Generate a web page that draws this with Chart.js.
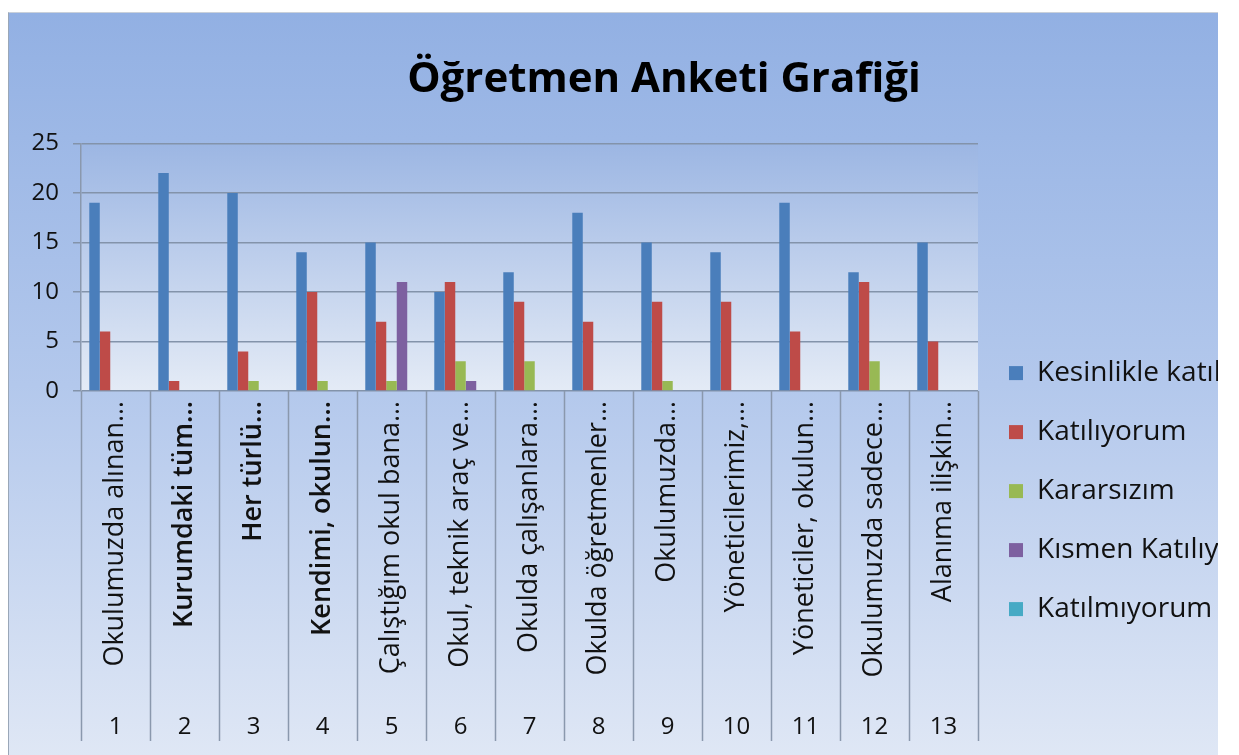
<!DOCTYPE html>
<html>
<head>
<meta charset="utf-8">
<script src="https://cdn.jsdelivr.net/npm/chart.js@4.4.1/dist/chart.umd.min.js"></script>
<style>
  html, body { margin: 0; padding: 0; background: #fff; }
  #wrap {
    position: absolute; left: 8px; top: 12px; width: 1209px; height: 743px;
    overflow: hidden; border-left: 1px solid #9aa7b8; border-top: 1px solid #c9d0da;
    background: linear-gradient(to bottom, #92b0e3 0%, #b3c8ec 50%, #dfe7f5 100%);
  }
  #mycanvas { position: absolute; left: 0; top: 0; }
</style>
</head>
<body>
<div id="wrap"><canvas id="mycanvas" width="1310" height="743"></canvas></div>
<script>
var questionLabels = ["Okulumuzda alınan…", "Kurumdaki tüm…", "Her türlü…", "Kendimi, okulun…",
  "Çalıştığım okul bana…", "Okul, teknik araç ve…", "Okulda çalışanlara…", "Okulda öğretmenler…",
  "Okulumuzda…", "Yöneticilerimiz,…", "Yöneticiler, okulun…", "Okulumuzda sadece…", "Alanıma ilişkin…"];
var questionNumbers = ["1", "2", "3", "4", "5", "6", "7", "8", "9", "10", "11", "12", "13"];
var seriesNames = ["Kesinlikle katılıyorum", "Katılıyorum", "Kararsızım", "Kısmen Katılıyorum", "Katılmıyorum"];
var seriesColors = ["#4a7ebb", "#be4b48", "#98b954", "#7d60a0", "#46aac5"];

var kesinlikle   = [19, 22, 20, 14, 15, 10, 12, 18, 15, 14, 19, 12, 15];
var katiliyorum  = [ 6,  1,  4, 10,  7, 11,  9,  7,  9,  9,  6, 11,  5];
var kararsizim   = [ 0,  0,  1,  1,  1,  3,  3,  0,  1,  0,  0,  3,  0];
var kismen       = [ 0,  0,  0,  0, 11,  1,  0,  0,  0,  0,  0,  0,  0];
var katilmiyorum = [ 0,  0,  0,  0,  0,  0,  0,  0,  0,  0,  0,  0,  0];
var yTicks = [0, 5, 10, 15, 20, 25];
var boldLabels = [1, 2, 3];

var allSeries = [kesinlikle, katiliyorum, kararsizim, kismen, katilmiyorum];
var datasets = [];
for (var i in allSeries) {
  datasets.push({
    label: seriesNames[i],
    data: allSeries[i],
    backgroundColor: seriesColors[i],
    borderWidth: 0,
    categoryPercentage: 0.76,
    barPercentage: 1
  });
}

// gradient behind the plot area
var plotBg = {
  id: 'plotBg',
  beforeDraw: function(chart) {
    var a = chart.chartArea, ctx = chart.ctx;
    var g = ctx.createLinearGradient(0, a.top, 0, a.bottom);
    g.addColorStop(0, '#9cb6e3');
    g.addColorStop(1, '#e4ebf6');
    ctx.save();
    ctx.fillStyle = g;
    ctx.fillRect(a.left, a.top, a.right - a.left, a.bottom - a.top);
    ctx.restore();
  }
};

// vertical dividers through the category label area
var dividers = {
  id: 'dividers',
  afterDraw: function(chart) {
    var xs = chart.scales.x, x2 = chart.scales.x2, ctx = chart.ctx;
    ctx.save();
    ctx.strokeStyle = '#8a98ad';
    ctx.lineWidth = 1.5;
    for (var k = 0; k <= questionLabels.length; k++) {
      var px = Math.round(xs.getPixelForValue(k - 0.5)) + 0.5;
      ctx.beginPath();
      ctx.moveTo(px, chart.chartArea.bottom);
      ctx.lineTo(px, x2.bottom - 15);
      ctx.stroke();
    }
    ctx.restore();
  }
};

var ctx = document.getElementById('mycanvas');
var chart = new Chart(ctx, {
  type: 'bar',
  data: { labels: questionLabels, datasets: datasets },
  plugins: [plotBg, dividers],
  options: {
    responsive: false,
    animation: false,
    devicePixelRatio: 1,
    layout: { padding: { left: 0, right: 0, top: 0, bottom: 0 } },
    plugins: {
      title: {
        display: true,
        text: 'Öğretmen Anketi Grafiği',
        color: '#000',
        font: { family: 'Open Sans', size: 42, weight: 'bold' },
        padding: { top: 42, bottom: 38 }
      },
      legend: {
        position: 'right',
        maxWidth: 341,
        title: { display: true, text: '', font: { size: 1 }, padding: { top: 212, bottom: 0 } },
        labels: {
          color: '#111',
          font: { family: 'Open Sans', size: 28 },
          boxWidth: 14,
          boxHeight: 14,
          padding: 31
        }
      },
      tooltip: { enabled: false }
    },
    scales: {
      y: {
        min: 0,
        max: 25,
        afterFit: function(s) { s.width = 72; },
        afterBuildTicks: function(s) { s.ticks = yTicks.map(function(v) { return { value: v }; }); },
        ticks: { color: '#111', font: { family: 'Open Sans', size: 24 }, padding: 14 },
        grid: { color: '#8393aa', lineWidth: 1.5, tickLength: 8 },
        border: { color: '#8a98ad', width: 1.5 }
      },
      x: {
        weight: 0,
        afterFit: function(s) { s.height = 300; },
        grid: { display: false },
        border: { display: false },
        ticks: {
          autoSkip: false,
          minRotation: 90,
          maxRotation: 90,
          padding: 2,
          color: '#111',
          font: function(c) {
            return { family: 'Open Sans', size: 27, weight: boldLabels.indexOf(c.index) >= 0 ? '600' : 'normal' };
          }
        }
      },
      x2: {
        type: 'category',
        position: 'bottom',
        weight: 1,
        labels: questionNumbers,
        offset: true,
        afterFit: function(s) { s.height = 65; },
        grid: { display: false },
        border: { display: false },
        ticks: { autoSkip: false, maxRotation: 0, minRotation: 0, padding: 14, color: '#111', font: { family: 'Open Sans', size: 24 } }
      }
    }
  }
});
</script>
</body>
</html>
